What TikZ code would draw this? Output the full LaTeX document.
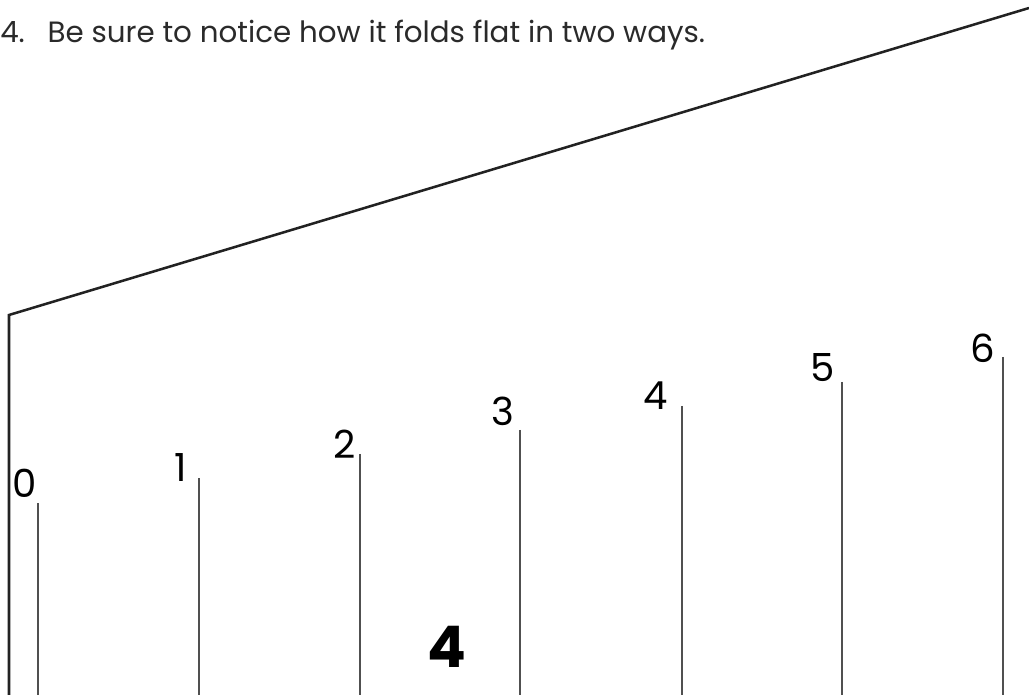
\documentclass[tikz,border=0pt]{standalone}
\usepackage{fontspec}
\usepackage{xcolor}
\usetikzlibrary{positioning,calc}
\newfontfamily\gothfont{Poppins}
\definecolor{ink}{HTML}{222222}
\definecolor{tickgray}{HTML}{505050}
\definecolor{textgray}{HTML}{2A2A2A}
\tikzset{
  foldline/.style={draw=ink,line width=1.9pt,line join=miter},
  tickline/.style={draw=tickgray,line width=1.7pt},
  ticklabel/.style={font=\gothfont\fontsize{29}{29}\selectfont,
                    inner sep=0pt,text=black},
  steptext/.style={font=\gothfont\fontsize{22}{25}\selectfont,
                   inner sep=0pt,text=textgray,anchor=base west},
  bignum/.style={font=\gothfont\bfseries\fontsize{43}{43}\selectfont,
                 inner sep=0pt,text=black}
}

\begin{document}
\begin{tikzpicture}[x=0.75pt,y=-0.75pt]
    \path[use as bounding box] (0,0) rectangle (1029,695);
    \node[steptext] (instr) at (0,42.3)
      {4.\hspace{17pt}Be sure to notice how it folds flat in two ways.};
    % outline of the fold
    \coordinate (edgebot) at (9,695);
    \coordinate (corner) at (9,315);
    \coordinate (edgetop) at (1029,8);
    \draw[foldline] (edgebot) -- (corner) -- (edgetop);
    % numbered creases
    \foreach \i/\x/\top/\lx/\ly in {0/38/503/25/483, 1/199/478/181/468,
        2/360/454/345/444, 3/520/430/503/411, 4/682/406/656/396,
        5/842/382/823/368, 6/1003/357/983/348} {
      \coordinate (t\i) at (\x,\top);
      \coordinate (b\i) at (\x,695);
      \draw[tickline] (t\i) -- (b\i);
      \node[ticklabel] (n\i) at (\lx,\ly) {\i};
    }
    \node[bignum] (stepnum) at (447,647) {4};
  \end{tikzpicture}
\end{document}
